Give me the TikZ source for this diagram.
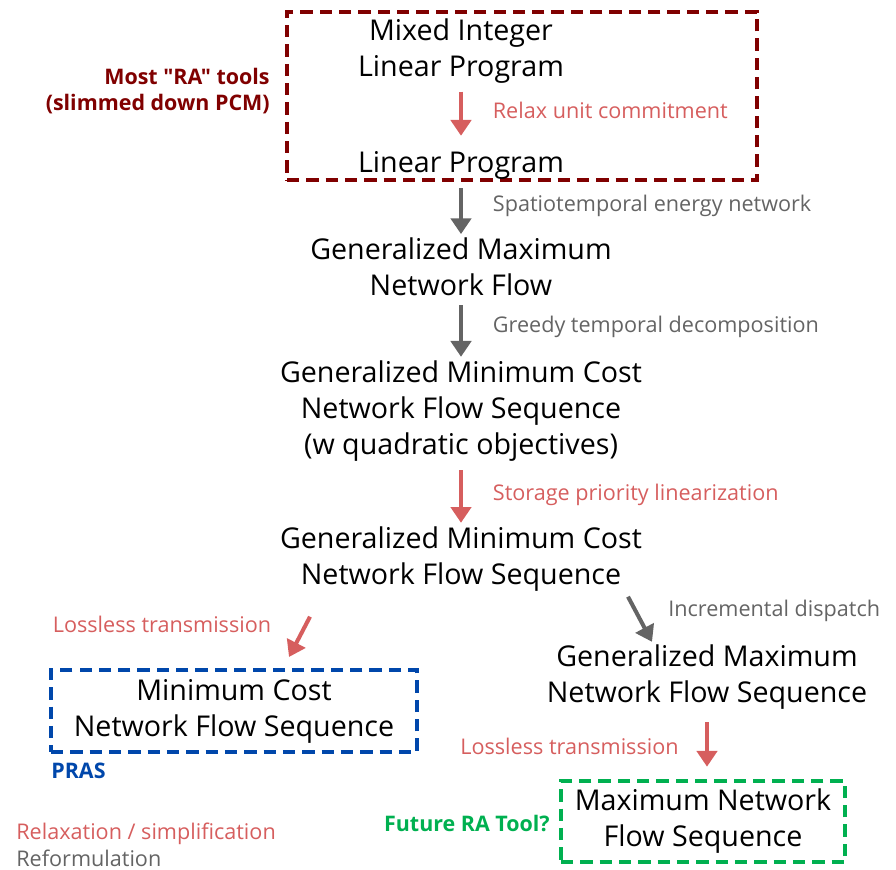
\documentclass[tikz,border=0pt]{standalone}
\usepackage{fontspec}
\setmainfont{Open Sans}[Ligatures=TeXOff]
\usetikzlibrary{arrows.meta,positioning,calc}
\definecolor{mydarkred}{RGB}{128,0,0}
\definecolor{myred}{RGB}{214,94,94}
\definecolor{mygray}{RGB}{100,100,100}
\definecolor{myblue}{RGB}{0,71,171}
\definecolor{mygreen}{RGB}{0,176,80}
\tikzset{
  prob/.style={align=center,inner sep=0pt,font=\fontsize{16.3}{20.5}\selectfont},
  tool/.style={rectangle,line width=2.3pt,dash pattern=on 7pt off 4pt,
    align=center,inner sep=0pt,font=\fontsize{16.3}{20.5}\selectfont},
  relax/.style={-{Triangle[length=9pt,width=11.5pt]},line width=2.3pt,color=myred},
  reform/.style={-{Triangle[length=9pt,width=11.5pt]},line width=2.3pt,color=mygray},
  relaxlab/.style={font=\fontsize{12.3}{14}\selectfont,text=myred,inner sep=0pt},
  reformlab/.style={font=\fontsize{12.3}{14}\selectfont,text=mygray,inner sep=0pt},
  toollab/.style={font=\bfseries\fontsize{12.2}{15}\selectfont,inner sep=0pt,align=right},
}
\begin{document}
\begin{tikzpicture}[x=0.02cm,y=-0.02cm]
  \useasboundingbox (0,0) rectangle (896,869);
  % tools
  \node[tool,draw=mydarkred,minimum width=9.4cm,minimum height=3.36cm] (pcm) at (522,96) {};
  \node[tool,draw=myblue,minimum width=7.32cm,minimum height=1.64cm] (mcfs) at (234,711) {Minimum Cost\\Network Flow Sequence};
  \node[tool,draw=mygreen,minimum width=5.68cm,minimum height=1.62cm] (mfs) at (703,821.5) {Maximum Network\\Flow Sequence};
  \node[toollab,text=mydarkred,anchor=east] (ratools) at (270,91) {Most "RA" tools\\(slimmed down PCM)};
  \node[toollab,text=myblue,anchor=west] (pras) at (51,771) {PRAS};
  \node[toollab,text=mygreen,anchor=east] (future) at (550,823) {Future RA Tool?};
  % problems
  \node[prob] (milp) at (461,51) {Mixed Integer\\Linear Program};
  \node[prob] (lp) at (461,165) {Linear Program};
  \node[prob] (gmf) at (461,267) {Generalized Maximum\\Network Flow};
  \node[prob] (gmcq) at (461,411) {Generalized Minimum Cost\\Network Flow Sequence\\(w quadratic objectives)};
  \node[prob] (gmc) at (461,559) {Generalized Minimum Cost\\Network Flow Sequence};
  \node[prob] (gmfs) at (707,677.5) {Generalized Maximum\\Network Flow Sequence};
  % steps
  \draw[relax,shorten <=4.5pt,shorten >=8.5pt] (milp) -- node[relaxlab,right=17pt,yshift=4pt] {Relax unit commitment} (lp);
  \draw[reform,shorten <=5pt,shorten >=2pt] (lp) -- node[reformlab,right=17pt,yshift=1.7pt] {Spatiotemporal energy network} (gmf);
  \draw[reform,shorten <=5pt,shorten >=2pt] (gmf) -- node[reformlab,right=17pt,yshift=0.7pt] {Greedy temporal decomposition} (gmcq);
  \draw[relax,shorten <=5pt,shorten >=2pt] (gmcq) -- node[relaxlab,right=17pt,yshift=-0.6pt] {Storage priority linearization} (gmc);
  \draw[relax] ($(gmc.south)+(-151,25)$) -- node[relaxlab,left=15pt,yshift=7.2pt] {Lossless transmission} ($(mcfs.north)+(55,-11)$);
  \draw[reform] ($(gmc.south)+(167,5)$) -- node[reformlab,right=15pt,yshift=4.7pt] {Incremental dispatch} ($(gmfs.north)+(-55,-3)$);
  \draw[relax,shorten <=7pt,shorten >=7pt] (gmfs.south) -- node[relaxlab,left=15pt,yshift=-1.2pt] {Lossless transmission} (gmfs.south |- mfs.north);
  % legend
  \node[relaxlab,anchor=west] (legrelax) at (16,834) {Relaxation / simplification};
  \node[reformlab,anchor=west] (legreform) at (16,858) {Reformulation};
\end{tikzpicture}
\end{document}
